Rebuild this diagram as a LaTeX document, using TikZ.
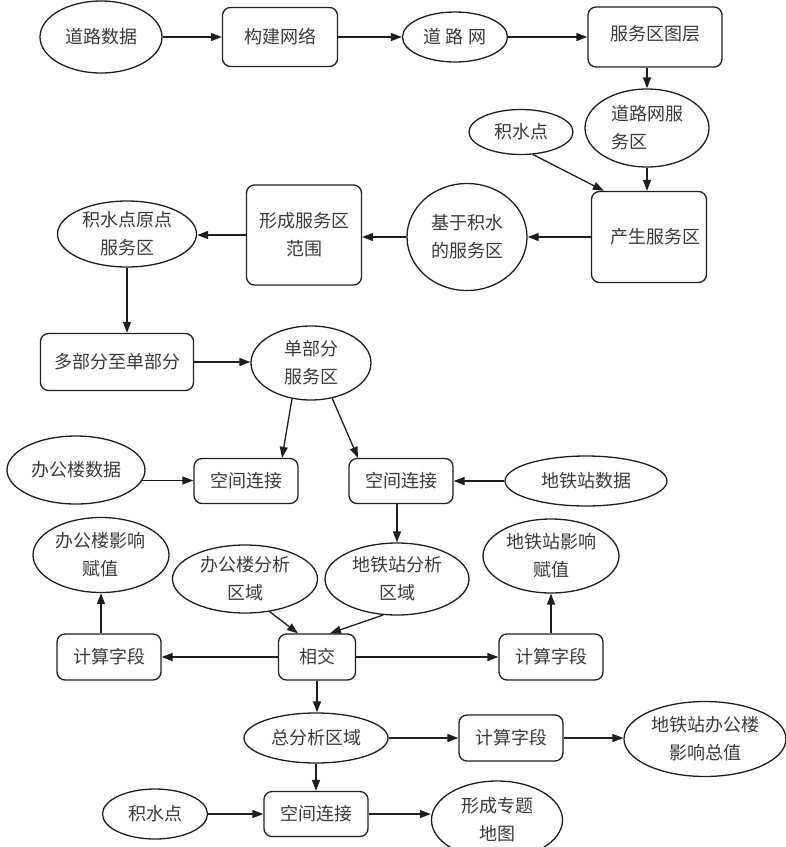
\documentclass[tikz,border=0pt]{standalone}
\usepackage{fontspec}
\setmainfont{Noto Sans CJK SC}
\usetikzlibrary{shapes.geometric,arrows.meta,calc}
\definecolor{ln}{HTML}{1E1E1E}
\definecolor{txt}{HTML}{3A3A3A}
\begin{document}
\begin{tikzpicture}[x=1pt,y=-1pt,
  every node/.style={font=\fontsize{18}{28}\selectfont, text=txt, inner sep=0pt, align=center},
  ell/.style={draw=ln, line width=1.3pt, ellipse},
  box/.style={draw=ln, line width=1.3pt, rounded corners=8pt, rectangle},
  arr/.style={draw=ln, line width=1.3pt, -{Triangle[length=11pt,width=8pt]}}]
\useasboundingbox (0,0) rectangle (786,847);
% row 1
\node[ell, minimum width=122pt, minimum height=72pt] (dlsj) at (101,37) {道路数据};
\node[box, minimum width=115pt, minimum height=59pt] (gjwl) at (280,37) {构建网络};
\node[ell, minimum width=105pt, minimum height=50pt] (dlw) at (455,37) {道 路 网};
\node[box, minimum width=134pt, minimum height=60pt] (fwqtc) at (655,37) {\raisebox{9pt}{服务区图层}};
% right column
\node[ell, minimum width=124pt, minimum height=78pt, align=left] (dlwfwq) at (647,128) {道路网服\\务区};
\node[ell, minimum width=104pt, minimum height=45pt] (jsd1) at (521,132) {积水点};
\node[box, minimum width=115pt, minimum height=91pt] (csfwq) at (649,237) {\hspace*{12pt}\raisebox{-4pt}{产生服务区}};
% row 3
\node[ell, minimum width=120pt, minimum height=107pt] (jyjs) at (467,237) {基于积水\\的服务区};
\node[box, minimum width=115pt, minimum height=100pt] (xcfwq) at (304,235) {形成服务区\\范围};
\node[ell, minimum width=139pt, minimum height=66pt] (ydfwq) at (127,234) {积水点原点\\服务区};
% row 4
\node[box, minimum width=153pt, minimum height=57pt] (dbf) at (117,362) {多部分至单部分};
\node[ell, minimum width=120pt, minimum height=74pt] (dbffwq) at (311,363) {单部分\\服务区};
% row 5
\node[ell, minimum width=138pt, minimum height=68pt] (bglsj) at (76,470) {办公楼数据};
\node[box, minimum width=104pt, minimum height=45pt] (kj1) at (246,481) {空间连接};
\node[box, minimum width=104pt, minimum height=45pt] (kj2) at (401,481) {空间连接};
\node[ell, minimum width=162pt, minimum height=50pt] (dtzsj) at (586,481) {地铁站数据};
% row 6
\node[ell, minimum width=136pt, minimum height=75pt] (bglfz) at (101,555) {办公楼影响\\赋值};
\node[ell, minimum width=145pt, minimum height=68pt] (bglfx) at (245,579) {办公楼分析\\区域};
\node[ell, minimum width=144pt, minimum height=72pt] (dtzfx) at (397,579) {地铁站分析\\区域};
\node[ell, minimum width=136pt, minimum height=74pt] (dtzfz) at (551,556) {地铁站影响\\赋值};
% row 7
\node[box, minimum width=104pt, minimum height=46pt] (js1) at (109,657) {计算字段};
\node[box, minimum width=77pt, minimum height=46pt] (xj) at (317,657) {相交};
\node[box, minimum width=104pt, minimum height=46pt] (js2) at (551,657) {计算字段};
% row 8
\node[ell, minimum width=144pt, minimum height=50pt] (zfx) at (316,738) {总分析区域};
\node[box, minimum width=104pt, minimum height=46pt] (js3) at (511,738) {计算字段};
\node[ell, minimum width=162pt, minimum height=75pt] (zz) at (705,739) {地铁站办公楼\\影响总值};
% row 9
\node[ell, minimum width=105pt, minimum height=50pt] (jsd2) at (155,814) {积水点};
\node[box, minimum width=104pt, minimum height=45pt] (kj3) at (316,814) {空间连接};
\node[ell, minimum width=131pt, minimum height=78pt] (ztdt) at (497,820) {形成专题\\地图};
% connectors
\draw[arr] (dlsj.east) -- (dlsj.east -| gjwl.west);
\draw[arr] (gjwl.east) -- (gjwl.east -| dlw.west);
\draw[arr] (dlw.east) -- (dlw.east -| fwqtc.west);
\draw[arr] (dlwfwq.north |- fwqtc.south) -- (dlwfwq.north);
\draw[arr] (dlwfwq.south) -- (dlwfwq.south |- csfwq.north);
\draw[arr] (jsd1.-62) -- ($(csfwq.north west)+(13,0)$);
\draw[arr] (csfwq.west) -- (csfwq.west -| jyjs.east);
\draw[arr] (jyjs.west) -- (jyjs.west -| xcfwq.east);
\draw[arr] (xcfwq.west) -- (xcfwq.west -| ydfwq.east);
\draw[arr] (ydfwq.south) -- (ydfwq.south |- dbf.north);
\draw[arr] (dbf.east) -- (dbf.east -| dbffwq.west);
\draw[arr] (dbffwq.-118) -- ($(kj1.north)+(36,0)$);
\draw[arr] (dbffwq.-59) -- ($(kj2.north)+(-43,0)$);
\draw[arr] (bglsj.-9) -- (bglsj.-9 -| kj1.west);
\draw[arr] (dtzsj.west) -- (dtzsj.west -| kj2.east);
\draw[arr] (kj2.south -| dtzfx.north) -- (dtzfx.north);
\draw[arr] (bglfx.-53) -- ($(xj.north)+(-19,0)$);
\draw[arr] (dtzfx.-111) -- ($(xj.north)+(13,0)$);
\draw[arr] (xj.west) -- (xj.west -| js1.east);
\draw[arr] (xj.east) -- (xj.east -| js2.west);
\draw[arr] (bglfz.south |- js1.north) -- (bglfz.south);
\draw[arr] (dtzfz.south |- js2.north) -- (dtzfz.south);
\draw[arr] (xj.south) -- (xj.south |- zfx.north);
\draw[arr] (zfx.east) -- (zfx.east -| js3.west);
\draw[arr] (js3.east) -- (js3.east -| zz.west);
\draw[arr] (zfx.south) -- (zfx.south |- kj3.north);
\draw[arr] (jsd2.east) -- (jsd2.east -| kj3.west);
\draw[arr] (kj3.east) -- (kj3.east -| ztdt.west);
\end{tikzpicture}
\end{document}
